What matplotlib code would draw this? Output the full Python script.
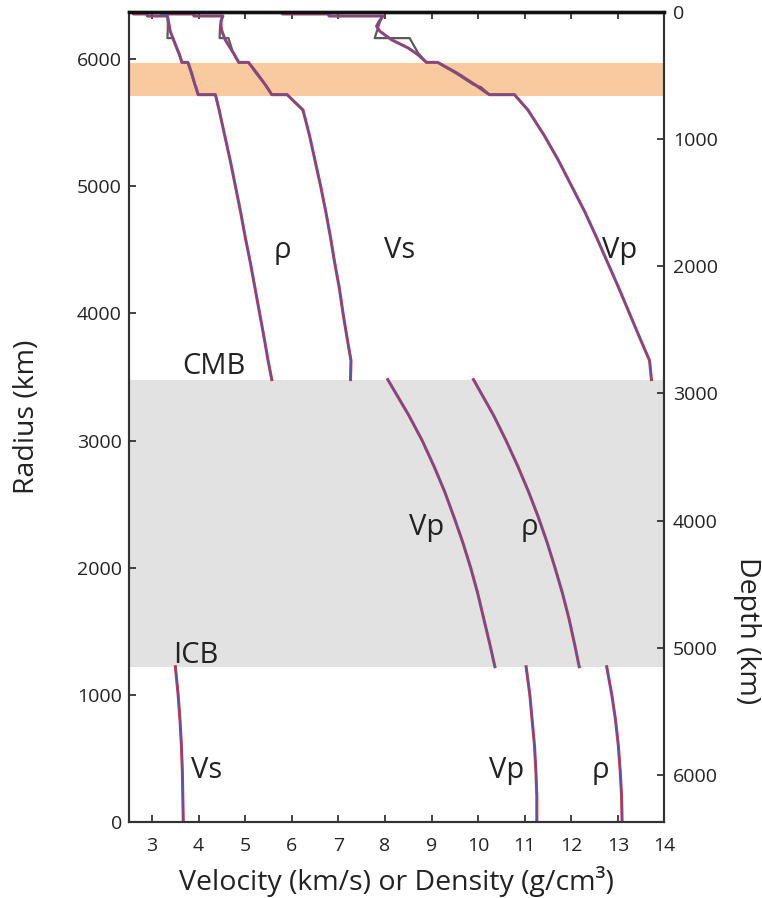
import numpy as np
import matplotlib
matplotlib.use("Agg")
import matplotlib.pyplot as plt

plt.rcParams["font.family"] = ["Open Sans", "DejaVu Sans"]

R_EARTH = 6371.0
R_CMB = 3480.0
R_ICB = 1221.5
TZ_DEPTHS = (400.0, 660.0)

# inner core (km, g/cm3, km/s)
r_inner = [0, 200, 400, 600, 800, 1000, 1221.5]
rho_inner = [13.09, 13.08, 13.05, 13.01, 12.95, 12.87, 12.76]
vp_inner = [11.26, 11.26, 11.24, 11.21, 11.16, 11.11, 11.03]
vs_inner = [3.67, 3.66, 3.65, 3.63, 3.60, 3.56, 3.50]

# outer core (no shear waves)
r_outer = [1221.5, 1400, 1600, 1800, 2000, 2200, 2400, 2600, 2800, 3000, 3200, 3480]
rho_outer = [12.17, 12.07, 11.95, 11.81, 11.65, 11.48, 11.29, 11.08, 10.85, 10.60, 10.33, 9.90]
vp_outer = [10.36, 10.25, 10.12, 9.99, 9.84, 9.67, 9.48, 9.28, 9.05, 8.80, 8.51, 8.06]

# mantle + crust, repeated radii are discontinuities
r_mantle = [3480, 3630, 3800, 4000, 4200, 4400, 4600, 4800, 5000, 5200, 5400, 5600,
            5721, 5721, 5800, 5890, 5975, 5975, 6035, 6088, 6153, 6220, 6260, 6300,
            6340, 6340, 6356, 6356, 6368, 6368, 6371]
rho_mantle = [5.57, 5.49, 5.41, 5.31, 5.21, 5.11, 5.00, 4.90, 4.79, 4.68, 4.56, 4.44,
              4.36, 3.99, 3.92, 3.85, 3.77, 3.64, 3.59, 3.53, 3.46, 3.39, 3.37, 3.35,
              3.33, 2.90, 2.90, 2.60, 2.60, 1.02, 1.02]
vp_mantle = [13.72, 13.68, 13.48, 13.25, 13.02, 12.78, 12.54, 12.29, 12.01, 11.73, 11.42, 11.07,
             10.78, 10.24, 9.93, 9.55, 9.13, 8.89, 8.71, 8.50, 8.14, 7.89, 7.82, 7.88,
             7.96, 6.80, 6.80, 5.80, 5.80, 1.45, 1.45]
vs_mantle = [7.26, 7.27, 7.19, 7.10, 7.02, 6.92, 6.83, 6.73, 6.62, 6.50, 6.38, 6.24,
             5.90, 5.57, 5.43, 5.25, 5.07, 4.86, 4.77, 4.68, 4.57, 4.50, 4.48, 4.48,
             4.52, 3.90, 3.90, 3.20, 3.20, 0.0, 0.0]

# alternative upper-mantle model (grey)
r_alt = [5600, 5721, 5721, 5780, 5800, 5890, 5975, 5975, 6049, 6166, 6166, 6260,
         6340, 6340, 6356, 6356, 6368, 6368, 6371]
rho_alt = [4.44, 4.36, 3.99, 3.95, 3.92, 3.84, 3.77, 3.64, 3.57, 3.45, 3.33, 3.34,
           3.33, 2.90, 2.90, 2.60, 2.60, 1.02, 1.02]
vp_alt = [11.07, 10.78, 10.24, 10.06, 9.90, 9.52, 9.13, 8.89, 8.71, 8.53, 7.78, 7.86,
          7.94, 6.80, 6.80, 5.80, 5.80, 1.45, 1.45]
vs_alt = [6.24, 5.90, 5.57, 5.47, 5.43, 5.23, 5.07, 4.86, 4.74, 4.64, 4.45, 4.46,
          4.51, 3.90, 3.90, 3.20, 3.20, 0.0, 0.0]

# curve labels: (text, x, radius)
labels = [("ρ", 5.79, 4434), ("Vs", 8.31, 4434), ("Vp", 13.04, 4434),
          ("CMB", 4.33, 3523), ("Vp", 8.89, 2256), ("ρ", 11.10, 2256),
          ("ICB", 3.94, 1249), ("Vs", 4.16, 344), ("Vp", 10.61, 344), ("ρ", 12.63, 344)]

fig = plt.figure(figsize=(7.62, 8.98), dpi=100)
ax = fig.add_axes([0.169, 0.0846, 0.703, 0.902])
ax.set_xlim(2.5, 14)
ax.set_ylim(0, R_EARTH)

# transition zone and outer core shading
ax.axhspan(R_EARTH - TZ_DEPTHS[1], R_EARTH - TZ_DEPTHS[0], color="#f9c9a0", lw=0, zorder=0)
ax.axhspan(R_ICB, R_CMB, color="#e2e2e2", lw=0, zorder=0)

segments = [(r_inner, rho_inner), (r_inner, vp_inner), (r_inner, vs_inner),
            (r_outer, rho_outer), (r_outer, vp_outer),
            (r_mantle, rho_mantle), (r_mantle, vp_mantle), (r_mantle, vs_mantle)]

for r, v in [(r_alt, rho_alt), (r_alt, vp_alt), (r_alt, vs_alt)]:
    ax.plot(v, r, color="#5a5a5a", lw=1.6, zorder=2)
for r, v in segments:
    ax.plot(v, r, color="#e8352b", lw=2.2, zorder=3)
for r, v in segments:
    ax.plot(v, r, color="#4a58b4", lw=1.4, alpha=0.9, zorder=4)

for txt, x, r in labels:
    ax.text(x, r, txt, fontsize=21, ha="center", va="baseline", color="#222222", zorder=5)

ax.set_xticks(range(3, 15))
ax.set_yticks(range(0, 6001, 1000))
ax.tick_params(direction="in", length=5, width=1.2, top=True, labelsize=14,
               colors="#222222")
ax.tick_params(axis="x", pad=11)
ax.tick_params(axis="y", pad=5)
ax.set_xlabel("Velocity (km/s) or Density (g/cm³)", fontsize=20.5, color="#222222")
ax.set_ylabel("Radius (km)", fontsize=20.5, color="#222222")
ax.xaxis.set_label_coords(0.5, -0.054)
ax.yaxis.set_label_coords(-0.163, 0.5)

# depth axis on the right
ax2 = ax.twinx()
ax2.set_ylim(R_EARTH, 0)
ax2.set_yticks(range(0, 6001, 1000))
ax2.tick_params(direction="in", length=5, width=1.2, labelsize=14, colors="#222222", pad=6)
ax2.set_ylabel("Depth (km)", fontsize=20.5, color="#222222", rotation=270)
ax2.yaxis.set_label_coords(1.18, 0.236)

for a in (ax, ax2):
    for side in ("left", "right", "bottom"):
        a.spines[side].set_linewidth(1.5)
        a.spines[side].set_color("#333333")
    a.spines["top"].set_linewidth(2.4)
    a.spines["top"].set_color("#111111")

fig.savefig("out.png", dpi=100)
